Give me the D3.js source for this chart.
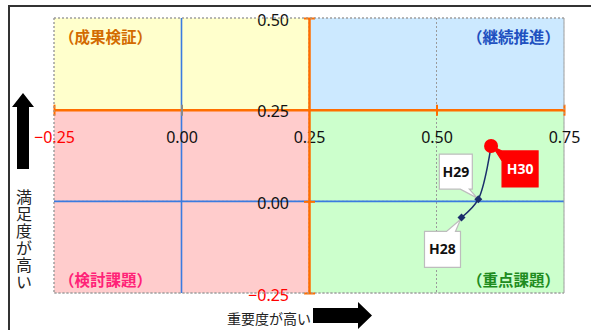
<!DOCTYPE html>
<html><head><meta charset="utf-8">
<script src="https://cdn.jsdelivr.net/npm/d3@7"></script>
<style>
html,body{margin:0;padding:0;background:#fff;}
svg{display:block;}
</style></head>
<body><svg id="c" width="591" height="330"></svg>
<script>
// ---- data ----
const years = ["H28", "H29", "H30"];
const importance = [0.549, 0.582, 0.607];     // x: 重要度
const satisfaction = [-0.044, 0.006, 0.151];  // y: 満足度
const xTicks = [-0.25, 0.00, 0.25, 0.50, 0.75];
const yTicks = [-0.25, 0.00, 0.25, 0.50];
const quadrantNames = ["（成果検証）", "（継続推進）", "（検討課題）", "（重点課題）"];
const xTitle = "重要度が高い";
const yTitle = "満足度が高い";

// ---- layout ----
const svg = d3.select("#c");
const pLeft = 54, pRight = 564, pTop = 18, pBottom = 293;
const x = d3.scaleLinear().domain([-0.25, 0.75]).range([pLeft, pRight]);
const y = d3.scaleLinear().domain([-0.25, 0.50]).range([pBottom, pTop]);
const xCross = 0.25, yCross = 0.25;
const jp = "'Noto Sans CJK JP', 'Noto Sans', sans-serif";
const num = "'Noto Sans', 'DejaVu Sans', sans-serif";

// outer frame
svg.append("rect").attr("x", 9).attr("y", 6).attr("width", 700).attr("height", 400)
  .attr("fill", "none").attr("stroke", "#333").attr("stroke-width", 2);

// quadrant backgrounds
const quads = [
  {x0: -0.25, x1: xCross, y0: yCross, y1: 0.50, fill: "#FFFFCC"},
  {x0: xCross, x1: 0.75, y0: yCross, y1: 0.50, fill: "#CCE9FF"},
  {x0: -0.25, x1: xCross, y0: -0.25, y1: yCross, fill: "#FFCCCC"},
  {x0: xCross, x1: 0.75, y0: -0.25, y1: yCross, fill: "#CCFFCC"}
];
svg.selectAll("rect.q").data(quads).enter().append("rect").attr("class", "q")
  .attr("x", d => x(d.x0)).attr("y", d => y(d.y1))
  .attr("width", d => x(d.x1) - x(d.x0)).attr("height", d => y(d.y0) - y(d.y1))
  .attr("fill", d => d.fill);

// gridlines (dotted gray)
const grid = svg.append("g").attr("stroke", "#9a9a9a").attr("stroke-width", 1).attr("stroke-dasharray", "2,2");
xTicks.forEach(t => grid.append("line").attr("x1", x(t)).attr("x2", x(t)).attr("y1", pTop).attr("y2", pBottom));
yTicks.forEach(t => grid.append("line").attr("y1", y(t)).attr("y2", y(t)).attr("x1", pLeft).attr("x2", pRight));

// blue zero lines
svg.append("line").attr("x1", x(0)).attr("x2", x(0)).attr("y1", pTop).attr("y2", pBottom)
  .attr("stroke", "#3A7BE0").attr("stroke-width", 1.6);
svg.append("line").attr("x1", pLeft).attr("x2", pRight).attr("y1", y(0)).attr("y2", y(0))
  .attr("stroke", "#3A7BE0").attr("stroke-width", 1.6);

// orange axes
const orange = "#FF6E00";
const xAxis = d3.axisBottom(x).tickValues(xTicks).tickSizeInner(5).tickSizeOuter(0).tickFormat(d3.format(".2f"));
const gx = svg.append("g").attr("transform", `translate(0,${y(yCross)})`).call(xAxis);
gx.select(".domain").attr("stroke", orange).attr("stroke-width", 2.5);
gx.selectAll(".tick line").attr("stroke", orange).attr("stroke-width", 2).attr("y1", -5).attr("y2", 6);
gx.selectAll(".tick text").attr("y", 33).attr("dy", 0).attr("font-family", num).attr("font-size", 16)
  .attr("fill", d => d < 0 ? "#FF0000" : "#111");
gx.selectAll(".tick").filter(d => d === 0).select("line").attr("stroke", "#8a8a8a").attr("stroke-width", 2);

const yAxis = d3.axisLeft(y).tickValues(yTicks).tickSizeInner(5).tickSizeOuter(0).tickFormat(d3.format(".2f"));
const gy = svg.append("g").attr("transform", `translate(${x(xCross)},0)`).call(yAxis);
gy.select(".domain").attr("stroke", orange).attr("stroke-width", 2.5);
gy.selectAll(".tick line").attr("stroke", orange).attr("stroke-width", 2).attr("x1", -5).attr("x2", 6);
gy.selectAll(".tick text").attr("x", -20).attr("dy", "0.45em").attr("font-family", num).attr("font-size", 16)
  .attr("fill", d => d < 0 ? "#FF0000" : "#111");
gy.selectAll(".tick").filter(d => d === 0.25).select("line").attr("stroke", "none");
gx.selectAll(".tick").filter(d => d === 0.25).select("line").attr("stroke", "none");

// plot border
svg.append("rect").attr("x", pLeft).attr("y", pTop).attr("width", pRight - pLeft).attr("height", pBottom - pTop)
  .attr("fill", "none").attr("stroke", "#a0a0a0").attr("stroke-dasharray", "2,2");

// quadrant labels
const qLab = [
  {t: quadrantNames[0], x: pLeft + 5, y: 43, a: "start", c: "#D36B00"},
  {t: quadrantNames[1], x: pRight - 4, y: 43, a: "end", c: "#2050C0"},
  {t: quadrantNames[2], x: pLeft + 5, y: 286, a: "start", c: "#FF2277"},
  {t: quadrantNames[3], x: pRight - 4, y: 286, a: "end", c: "#1E8C1E"}
];
svg.selectAll("text.ql").data(qLab).enter().append("text").attr("class", "ql")
  .attr("x", d => d.x).attr("y", d => d.y).attr("text-anchor", d => d.a)
  .attr("fill", d => d.c).attr("font-family", jp).attr("font-weight", "bold").attr("font-size", 15.5)
  .text(d => d.t);

// series line
const pts = years.map((yr, i) => ({yr, x: importance[i], y: satisfaction[i]}));
const navy = "#1B2F6B";
svg.append("path").datum(pts)
  .attr("d", d3.line().x(d => x(d.x)).y(d => y(d.y)).curve(d3.curveCatmullRom.alpha(0.5)))
  .attr("fill", "none").attr("stroke", navy).attr("stroke-width", 1.5);

// callouts
const callouts = {
  H28: {bx: -37, by: 14, w: 36, h: 36, fill: "#fff", stroke: "#BDBDBD", tc: "#111", side: "top"},
  H29: {bx: -39, by: -45, w: 33, h: 35, fill: "#fff", stroke: "#BDBDBD", tc: "#111", side: "bottom"},
  H30: {bx: 11, by: 5, w: 36, h: 36, fill: "#FF0000", stroke: "#FF0000", tc: "#fff", side: "left"}
};
pts.forEach(p => {
  const c = callouts[p.yr];
  const px = x(p.x), py = y(p.y);
  const bx = px + c.bx, by = py + c.by;
  let path;
  if (c.side === "top") {
    path = `M${bx},${by} L${bx + c.w - 14},${by} L${px - 1},${py + 2} L${bx + c.w - 5},${by} L${bx + c.w},${by} L${bx + c.w},${by + c.h} L${bx},${by + c.h} Z`;
  } else if (c.side === "bottom") {
    path = `M${bx},${by} L${bx + c.w},${by} L${bx + c.w},${by + c.h} L${bx + c.w - 3},${by + c.h} L${px - 1},${py - 1} L${bx + c.w - 12},${by + c.h} L${bx},${by + c.h} Z`;
  } else {
    path = `M${bx},${by} L${bx + c.w},${by} L${bx + c.w},${by + c.h} L${bx},${by + c.h} L${bx},${by + 10} L${px + 2},${py + 1} Z`;
  }
  svg.append("path").attr("d", path).attr("fill", c.fill).attr("stroke", c.stroke).attr("stroke-width", 1.2);
  svg.append("text").attr("x", bx + c.w / 2).attr("y", by + c.h / 2 + 5).attr("text-anchor", "middle")
    .attr("font-family", num).attr("font-weight", "bold").attr("font-size", 14).attr("fill", c.tc).text(p.yr);
});

// markers
pts.forEach(p => {
  const px = x(p.x), py = y(p.y);
  if (p.yr === "H30") {
    svg.append("circle").attr("cx", px).attr("cy", py).attr("r", 7).attr("fill", "#FF0000");
  } else {
    svg.append("path").attr("d", d3.symbol().type(d3.symbolSquare).size(32)())
      .attr("transform", `translate(${px},${py}) rotate(45)`).attr("fill", navy);
  }
});

// axis title arrows
svg.append("path").attr("d", "M23,93 L34,107 L29,107 L29,169 L17,169 L17,107 L12,107 Z").attr("fill", "#000");
svg.append("text").attr("x", 24).attr("y", 189)
  .attr("font-family", jp).attr("font-size", 16).attr("fill", "#222")
  .style("writing-mode", "vertical-rl").attr("letter-spacing", 1).text(yTitle);
svg.append("text").attr("x", 227).attr("y", 324)
  .attr("font-family", jp).attr("font-size", 14).attr("fill", "#222").text(xTitle);
svg.append("path").attr("d", "M313,308 L358,308 L358,302 L372,315.5 L358,329 L358,323 L313,323 Z").attr("fill", "#000");
</script></body></html>
